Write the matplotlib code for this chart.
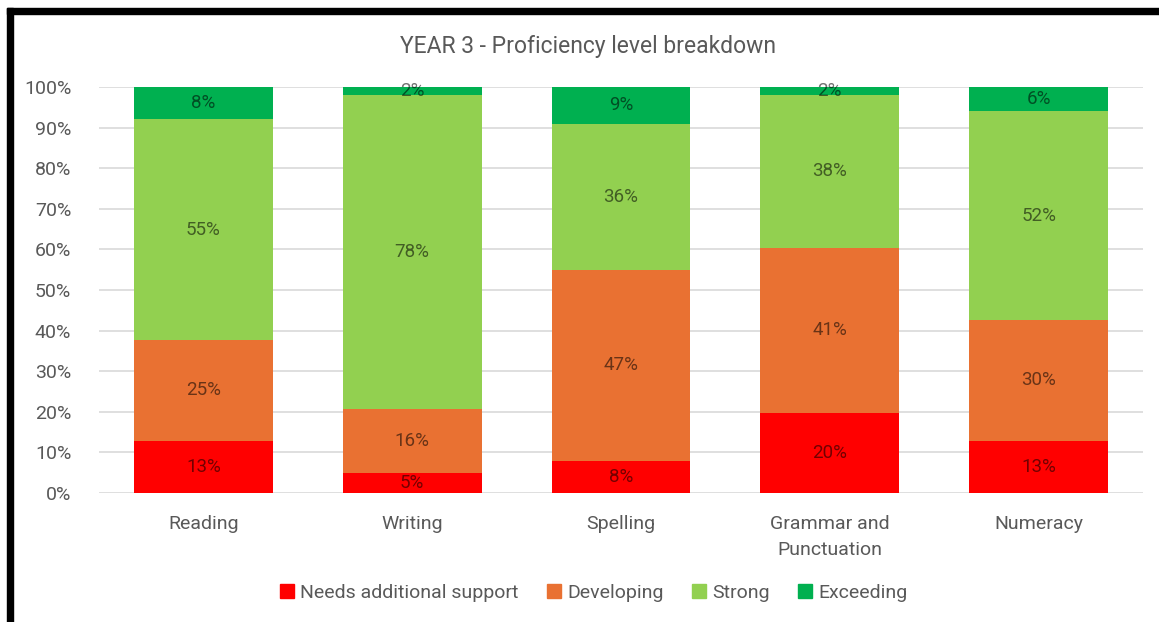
import matplotlib
matplotlib.use("Agg")
import matplotlib.pyplot as plt
from matplotlib.patches import Rectangle
from matplotlib.lines import Line2D
import numpy as np

categories = ["Reading", "Writing", "Spelling", "Grammar and\nPunctuation", "Numeracy"]
series_names = ["Needs additional support", "Developing", "Strong", "Exceeding"]
needs = [13, 5, 8, 20, 13]
developing = [25, 16, 47, 41, 30]
strong = [55, 78, 36, 38, 52]
exceeding = [8, 2, 9, 2, 6]
colors = ["#FF0000", "#E97132", "#92D050", "#00B050"]
yticks = [0, 10, 20, 30, 40, 50, 60, 70, 80, 90, 100]

plt.rcParams['font.family'] = ['Roboto', 'DejaVu Sans']

fig = plt.figure(figsize=(11.59, 6.22), dpi=100)
ax = fig.add_axes([99/1159, 1-493/622, (1143-99)/1159, (493-87)/622])

data = np.array([needs, developing, strong, exceeding], dtype=float)
totals = data.sum(axis=0)
pct = data / totals * 100
x = np.arange(len(categories))
bottom = np.zeros(len(categories))
for i, name in enumerate(series_names):
    bars = ax.bar(x, pct[i], 0.665, bottom=bottom, color=colors[i], label=name, zorder=3)
    for j, b in enumerate(bars):
        ax.text(x[j], bottom[j] + pct[i][j] / 2, f"{int(data[i][j])}%", ha='center', va='center',
                fontsize=13.5, color='black', alpha=0.55, zorder=4)
    bottom += pct[i]

ax.set_xlim(-0.5, len(categories) - 0.5)
ax.set_ylim(0, 100)
ax.set_yticks(yticks)
ax.set_yticklabels([f"{t}%" for t in yticks])
ax.set_xticks(x)
ax.set_xticklabels(categories, linespacing=1.6)
ax.tick_params(axis='both', length=0, labelsize=14, labelcolor='#595959')
ax.tick_params(axis='y', pad=20)
ax.tick_params(axis='x', pad=15.5)
ax.grid(axis='y', color='#d9d9d9', linewidth=1.2, zorder=0)
for s in ax.spines.values():
    s.set_visible(False)

fig.text(588/1159, 1-46/622, "YEAR 3 - Proficiency level breakdown", ha='center', va='center',
         fontsize=16.5, color='#595959')

handles = [Line2D([0], [0], marker='s', linestyle='none', markersize=10, markerfacecolor=c,
                  markeredgecolor=c) for c in colors]
fig.legend(handles, series_names, loc='center', bbox_to_anchor=(594/1159, 1-593/622), ncol=4,
           frameon=False, fontsize=14, labelcolor='#595959', handlelength=0.7,
           handletextpad=0.35, columnspacing=1.45)

# black frame
fig.add_artist(Rectangle((7/1159, 0), 6/1159, 1-8/622, transform=fig.transFigure,
                         color='black', zorder=10))
fig.add_artist(Rectangle((7/1159, 1-14/622), 1, 6/622, transform=fig.transFigure,
                         color='black', zorder=10))

fig.savefig("out.png", dpi=100)
